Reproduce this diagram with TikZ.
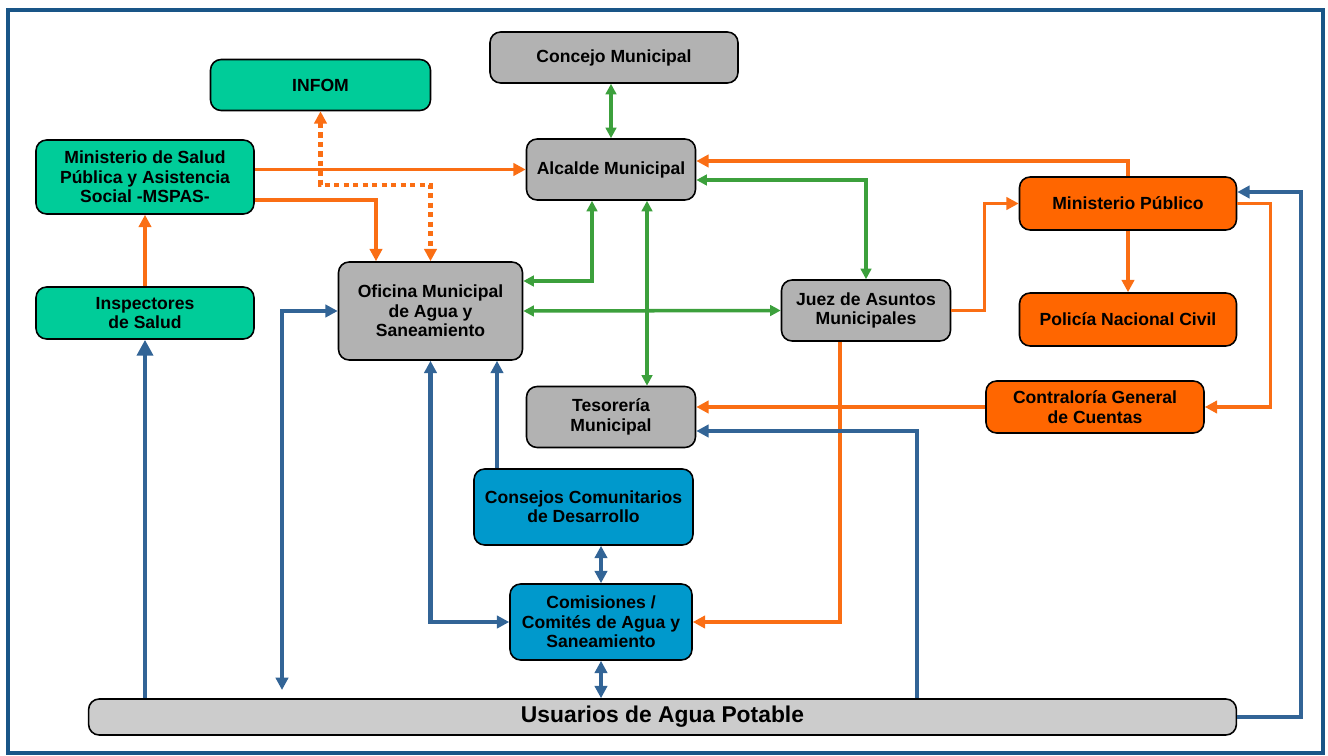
\documentclass[tikz,border=0pt]{standalone}
\usepackage{fontspec}
\setmainfont{Liberation Sans}
\usetikzlibrary{arrows.meta}
\definecolor{boxgreen}{RGB}{0,204,153}
\definecolor{boxorange}{RGB}{255,102,0}
\definecolor{boxblue}{RGB}{0,153,204}
\definecolor{boxgray}{RGB}{178,178,178}
\definecolor{basegray}{RGB}{204,204,204}
\definecolor{lineorange}{RGB}{250,110,20}
\definecolor{linegreen}{RGB}{60,160,60}
\definecolor{lineblue}{RGB}{50,100,150}
\definecolor{frameblue}{RGB}{25,85,135}
\begin{document}
\begin{tikzpicture}[x=0.02cm, y=-0.02cm,
		box/.style={draw=black, line width=0.9pt, rounded corners=6pt, align=center, inner sep=0pt, font=\bfseries\fontsize{10}{11}\selectfont},
		greenbox/.style={box, fill=boxgreen},
		orangebox/.style={box, fill=boxorange},
		bluebox/.style={box, fill=boxblue},
		graybox/.style={box, fill=boxgray},
		oline/.style={draw=lineorange, line width=2pt, >={Triangle[length=7pt,width=7pt]}},
		gline/.style={draw=linegreen, line width=2pt, >={Triangle[length=6pt,width=6pt]}},
		bline/.style={draw=lineblue, line width=2.4pt, >={Triangle[length=7pt,width=7pt]}}]

		\useasboundingbox (0, 0) rectangle (1328, 756);
		\draw [frameblue, line width=2.3pt]	(8, 10) rectangle (1323, 753);

		\node [greenbox, minimum width=4.4cm, minimum height=1.02cm]	(infom)	at (320.5, 85)	{INFOM};
		\node [greenbox, minimum width=4.36cm, minimum height=1.48cm]	(mspas)	at (145, 177)	{Ministerio de Salud\\Pública y Asistencia\\Social -MSPAS-};
		\node [greenbox, minimum width=4.36cm, minimum height=1.04cm]	(insp)	at (145, 313)	{Inspectores\\de Salud};
		\node [graybox, minimum width=4.96cm, minimum height=1.02cm]	(concejo)	at (614, 57.5)	{Concejo Municipal};
		\node [graybox, minimum width=3.38cm, minimum height=1.22cm]	(alcalde)	at (611, 169.5)	{Alcalde Municipal};
		\node [graybox, minimum width=3.68cm, minimum height=1.96cm]	(oficina)	at (430.5, 311)	{Oficina Municipal\\de Agua y\\Saneamiento};
		\node [graybox, minimum width=3.38cm, minimum height=1.22cm]	(juez)	at (866, 310.5)	{Juez de Asuntos\\Municipales};
		\node [orangebox, minimum width=4.34cm, minimum height=1.06cm]	(mp)	at (1128, 203.5)	{Ministerio Público};
		\node [orangebox, minimum width=4.34cm, minimum height=1.06cm]	(pnc)	at (1128, 319.5)	{Policía Nacional Civil};
		\node [orangebox, minimum width=4.36cm, minimum height=1.04cm]	(contra)	at (1095, 407)	{Contraloría General\\de Cuentas};
		\node [graybox, minimum width=3.38cm, minimum height=1.22cm]	(teso)	at (611, 417)	{Tesorería\\Municipal};
		\node [bluebox, minimum width=4.38cm, minimum height=1.52cm]	(consejos)	at (583.5, 507)	{Consejos Comunitarios\\de Desarrollo};
		\node [bluebox, minimum width=3.64cm, minimum height=1.52cm]	(comis)	at (601, 622)	{Comisiones /\\Comités de Agua y\\Saneamiento};
		\node [box, fill=basegray, minimum width=22.96cm, minimum height=0.72cm, font=\bfseries\fontsize{13}{15}\selectfont]	(usuarios)	at (662.5, 717)	{Usuarios de Agua Potable};

		\coordinate (libre)	at (282, 690);

		\draw [oline, ->]	(mspas.east |- alcalde) to (alcalde.west);
		\draw [oline, ->]	(mspas.east |- 0, 200) -| (oficina.north -| 376, 0);
		\draw [oline, <->, line width=2.4pt, dash pattern=on 3pt off 2.4pt]	(infom.south) |- (oficina.north |- 0, 185) -- (oficina.north);
		\draw [oline, ->]	(insp.north) to (mspas.south);
		\draw [oline, ->]	(mp.north) |- (alcalde.east |- 0, 161);
		\draw [oline, ->]	(juez.east) -- ++(33, 0) |- (mp.west);
		\draw [oline, ->]	(mp.south) to (pnc.north);
		\draw [oline, ->]	(mp.east) -- ++(33, 0) |- (contra.east);
		\draw [oline, ->]	(contra.west) to (teso.east |- contra.west);
		\draw [oline, ->]	(juez.south -| 840, 0) |- (comis.east);

		\draw [gline, <->]	(concejo.south -| alcalde.north) to (alcalde.north);
		\draw [gline, <->]	(alcalde.east |- 0, 180) -| (juez.north);
		\draw [gline, <->]	(alcalde.south -| 592, 0) |- (oficina.east |- 0, 281);
		\draw [gline, <->]	(oficina.east) to (juez.west);
		\draw [gline, <->]	(alcalde.south -| 647, 0) to (teso.north -| 647, 0);

		\draw [bline, ->, >={Triangle[length=9pt,width=9pt]}]	(usuarios.north -| insp.south) to (insp.south);
		\draw [bline, <->]	(libre) |- (oficina.west);
		\draw [bline, <->]	(oficina.south) |- (comis.west);
		\draw [bline, ->]	(consejos.north -| 497, 0) to (oficina.south -| 497, 0);
		\draw [bline, <->]	(consejos.south -| comis.north) to (comis.north);
		\draw [bline, <->]	(comis.south) to (usuarios.north -| comis.south);
		\draw [bline, ->]	(usuarios.north -| 917, 0) |- (teso.east |- 0, 431);
		\draw [bline, ->]	(usuarios.east) -- ++(64, 0) |- (mp.east |- 0, 192);
	\end{tikzpicture}
\end{document}
